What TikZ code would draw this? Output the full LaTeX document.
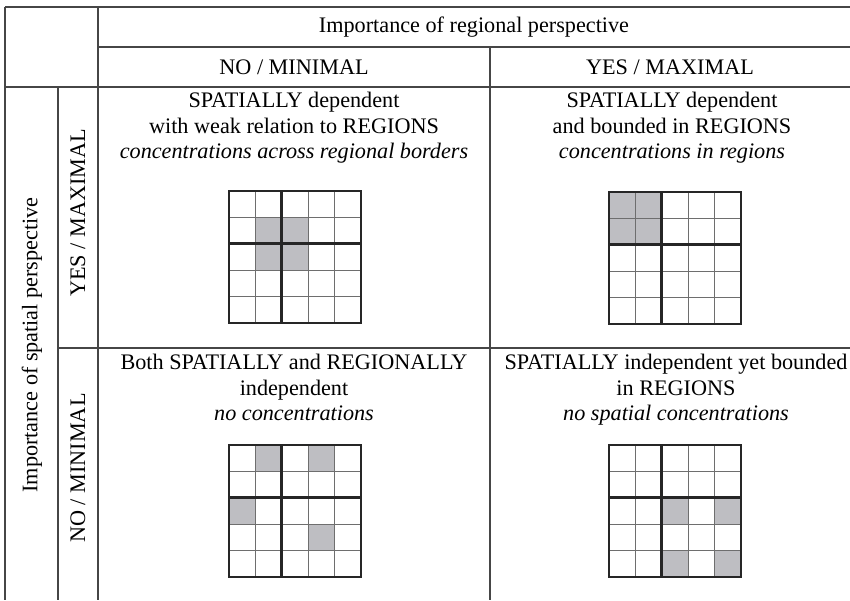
\documentclass[tikz,border=0pt]{standalone}
\usepackage{fontspec}
\setmainfont{Liberation Serif}
\definecolor{shade}{RGB}{190,190,194}
\definecolor{rule}{RGB}{70,70,70}
\definecolor{thingrid}{RGB}{110,110,110}
\begin{document}
\begin{tikzpicture}[x=1pt,y=-1pt,
  tline/.style={draw=rule,line width=1.1pt},
  txt/.style={font=\fontsize{22.2}{25.5}\selectfont,inner sep=0pt,align=center},
  thinl/.style={draw=thingrid,line width=1.3pt},
  thickl/.style={draw=black!85,line width=2.8pt},
  cellfill/.style={fill=shade}]
\useasboundingbox (0,0) rectangle (850,600);
\fill[white] (0,0) rectangle (850,600);
% table lines
\draw[tline] (5,7) -- (850,7);
\draw[tline] (98,47) -- (850,47);
\draw[tline] (5,87) -- (850,87);
\draw[tline] (58,348) -- (850,348);
\draw[tline] (5,7) -- (5,600);
\draw[tline] (58,87) -- (58,600);
\draw[tline] (98,7) -- (98,600);
\draw[tline] (490,47) -- (490,600);
% headers
\node[txt] (h) at (474,27) {Importance of regional perspective};
\node[txt] (hno) at (294,67) {NO / MINIMAL};
\node[txt] (hyes) at (670,67) {YES / MAXIMAL};
\node[txt,rotate=90] (vs) at (32,345) {Importance of spatial perspective};
\node[txt,rotate=90] (vyes) at (78,213) {YES / MAXIMAL};
\node[txt,rotate=90] (vno) at (78,468) {NO / MINIMAL};
% cell texts
\node[txt,anchor=north] (t1) at (294,92) {SPATIALLY dependent\\with weak relation to REGIONS\\\itshape concentrations across regional borders};
\node[txt,anchor=north] (t2) at (672,92) {SPATIALLY dependent\\and bounded in REGIONS\\\itshape concentrations in regions};
\node[txt,anchor=north] (t3) at (294,354) {Both SPATIALLY and REGIONALLY\\independent\\\itshape no concentrations};
\node[txt,anchor=north] (t4) at (676,354) {SPATIALLY independent yet bounded\\in REGIONS\\\itshape no spatial concentrations};
% grids
\foreach \gx/\gy/\cells in {229/191/{1/1,2/1,1/2,2/2}, 609/192/{0/0,1/0,0/1,1/1}, 229/445/{1/0,3/0,0/2,3/3}, 609/445/{2/2,4/2,2/4,4/4}}{
  \begin{scope}[shift={(\gx,\gy)}]
    \foreach \c/\r in \cells {\fill[cellfill] ({\c*26.4},{\r*26.4}) rectangle ++(26.4,26.4);}
    \foreach \i in {1,3,4} {\draw[thinl] ({\i*26.4},0) -- ({\i*26.4},132); \draw[thinl] (0,{\i*26.4}) -- (132,{\i*26.4});}
    \draw[thickl] (0,0) rectangle (132,132);
    \draw[thickl] (52.8,0) -- (52.8,132);
    \draw[thickl] (0,52.8) -- (132,52.8);
  \end{scope}
}
\end{tikzpicture}
\end{document}
